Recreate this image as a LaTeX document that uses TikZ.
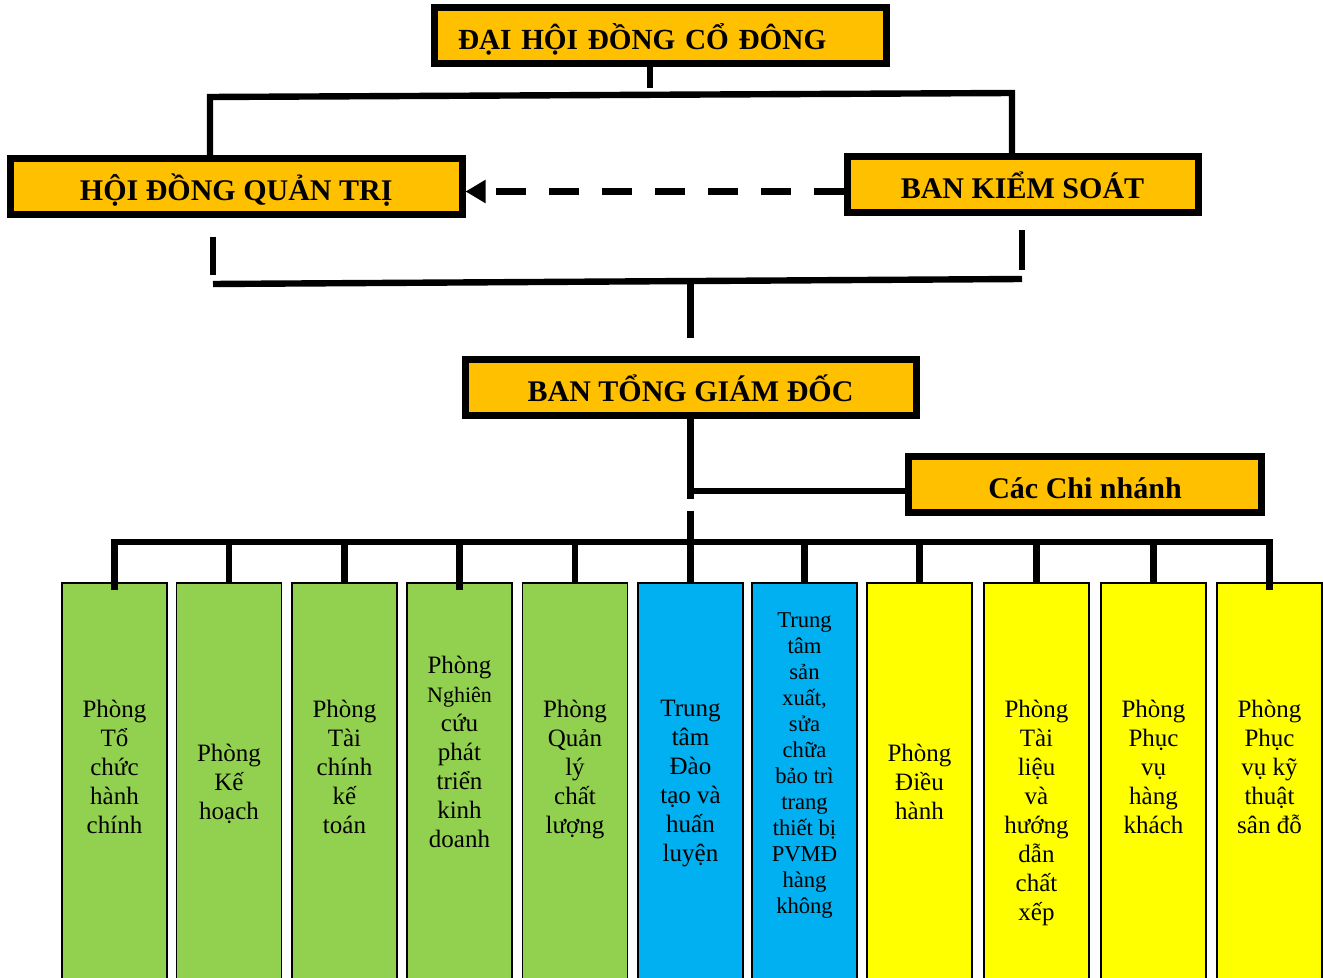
\documentclass[tikz,border=0pt]{standalone}
\usepackage{fontspec}
\setmainfont{Liberation Serif}
\usetikzlibrary{arrows.meta}
\definecolor{boardorange}{HTML}{FFC000}
\definecolor{deptgreen}{HTML}{92D050}
\definecolor{deptblue}{HTML}{00B0F0}
\definecolor{deptyellow}{HTML}{FFFF00}

\begin{document}
\begin{tikzpicture}[x=0.5pt, y=-0.5pt,
	board/.style = {draw, line width=3.5pt, fill=boardorange, minimum height=28pt, inner sep=0pt, text height=14.5pt, text depth=0.5pt, font=\fontsize{15}{18}\selectfont\bfseries},
	dept/.style = {draw, line width=0.8pt, minimum width=52.5pt, minimum height=210pt, anchor=north},
	depttext/.style = {anchor=north, align=center, inner sep=0pt, font=\fontsize{12.5}{14.5}\selectfont},
	link/.style = {line width=3.2pt}]
	\useasboundingbox (0,0) rectangle (1323,978);
	% management boxes
	\node[board, text width=202.5pt, align=left, inner xsep=11.75pt, font=\fontsize{14.6}{18}\selectfont\bfseries] (dh) at (660.5,35.75) {ĐẠI HỘI ĐỒNG CỔ ĐÔNG};
	\node[board, minimum width=225.75pt] (hq) at (236.25,186.75) {HỘI ĐỒNG QUẢN TRỊ};
	\node[board, minimum width=175.5pt] (bks) at (1022.5,184.5) {BAN KIỂM SOÁT};
	\node[board, minimum width=225.5pt] (bt) at (690.5,387.5) {BAN TỔNG GIÁM ĐỐC};
	\node[board, minimum width=176.5pt] (cn) at (1085,484.5) {Các Chi nhánh};
	% departments
	\node[dept, fill=deptgreen] (d1) at (114.5,582) {};
	\node[dept, fill=deptgreen] (d2) at (229,582) {};
	\node[dept, fill=deptgreen] (d3) at (344.5,582) {};
	\node[dept, fill=deptgreen] (d4) at (459.5,582) {};
	\node[dept, fill=deptgreen] (d5) at (575,582) {};
	\node[dept, fill=deptblue] (d6) at (690.5,582) {};
	\node[dept, fill=deptblue] (d7) at (804.5,582) {};
	\node[dept, fill=deptyellow] (d8) at (919.5,582) {};
	\node[dept, fill=deptyellow] (d9) at (1036.5,582) {};
	\node[dept, fill=deptyellow] (d10) at (1153.5,582) {};
	\node[dept, fill=deptyellow] (d11) at (1269.5,582) {};
	\node[depttext] (t1) at ([yshift=-59pt]d1.north) {Phòng\\Tổ\\chức\\hành\\chính};
	\node[depttext] (t2) at ([yshift=-81pt]d2.north) {Phòng\\Kế\\hoạch};
	\node[depttext] (t3) at ([yshift=-59pt]d3.north) {Phòng\\Tài\\chính\\kế\\toán};
	\node[depttext] (t4) at ([yshift=-37pt]d4.north) {Phòng\\{\fontsize{11}{14}\selectfont Nghiên}\\cứu\\phát\\triển\\kinh\\doanh};
	\node[depttext] (t5) at ([yshift=-59pt]d5.north) {Phòng\\Quản\\lý\\chất\\lượng};
	\node[depttext] (t6) at ([yshift=-59pt]d6.north) {Trung\\tâm\\Đào\\tạo và\\huấn\\luyện};
	\node[depttext, font=\fontsize{11.3}{13}\selectfont] (t7) at ([yshift=-15pt]d7.north) {Trung\\tâm\\sản\\xuất,\\sửa\\chữa\\bảo trì\\trang\\thiết bị\\PVMĐ\\hàng\\không};
	\node[depttext] (t8) at ([yshift=-81pt]d8.north) {Phòng\\Điều\\hành};
	\node[depttext] (t9) at ([yshift=-59pt]d9.north) {Phòng\\Tài\\liệu\\và\\hướng\\dẫn\\chất\\xếp};
	\node[depttext] (t10) at ([yshift=-59pt]d10.north) {Phòng\\Phục\\vụ\\hàng\\khách};
	\node[depttext] (t11) at ([yshift=-59pt]d11.north) {Phòng\\Phục\\vụ kỹ\\thuật\\sân đỗ};
	% connectors
	\coordinate (stub) at (650,88);
	\coordinate (tl) at (210,97);
	\coordinate (tr) at (1012,93);
	\coordinate (bl) at (213,284);
	\coordinate (br) at (1022,279);
	\coordinate (dashy) at (660,191.5);
	\coordinate (cj) at (690.5,491);
	\coordinate (bus) at (690.5,542);
	\draw[link] (dh.south -| stub) -- (stub);
	\draw[link] (hq.north -| tl) -- (tl) -- (tr) -- (bks.north -| tr);
	\draw[line width=3.5pt, dash pattern=on 15pt off 11.5pt, -{Triangle[length=10pt,width=11pt]}] (bks.west |- dashy) -- (hq.east |- dashy);
	\draw[link, shorten <=9.25pt] (hq.south -| bl) -- ([yshift=4.5pt]bl);
	\draw[link, shorten <=7.25pt] (bks.south -| br) -- ([yshift=4.5pt]br);
	\draw[link] (bl) -- (br);
	\draw[link, shorten <=8.75pt] (bt.north) -- (bt.north |- bl);
	\draw[link] (bt.south) -- ([yshift=-4pt]cj);
	\draw[link] (cj) -- (cn.west |- cj);
	\draw[link] (d6.north) -- ([yshift=15.5pt]bus);
	\draw[link, shorten <=-4pt, shorten >=-4pt] (d1.north) -- (d1.north |- bus) -- (d11.north |- bus) -- (d11.north);
	\foreach \d in {d2,d3,d5,d7,d8,d9,d10}
		\draw[link] (\d.north |- bus) -- (\d.north);
	\draw[link, shorten >=-4pt] (d4.north |- bus) -- (d4.north);
\end{tikzpicture}
\end{document}
